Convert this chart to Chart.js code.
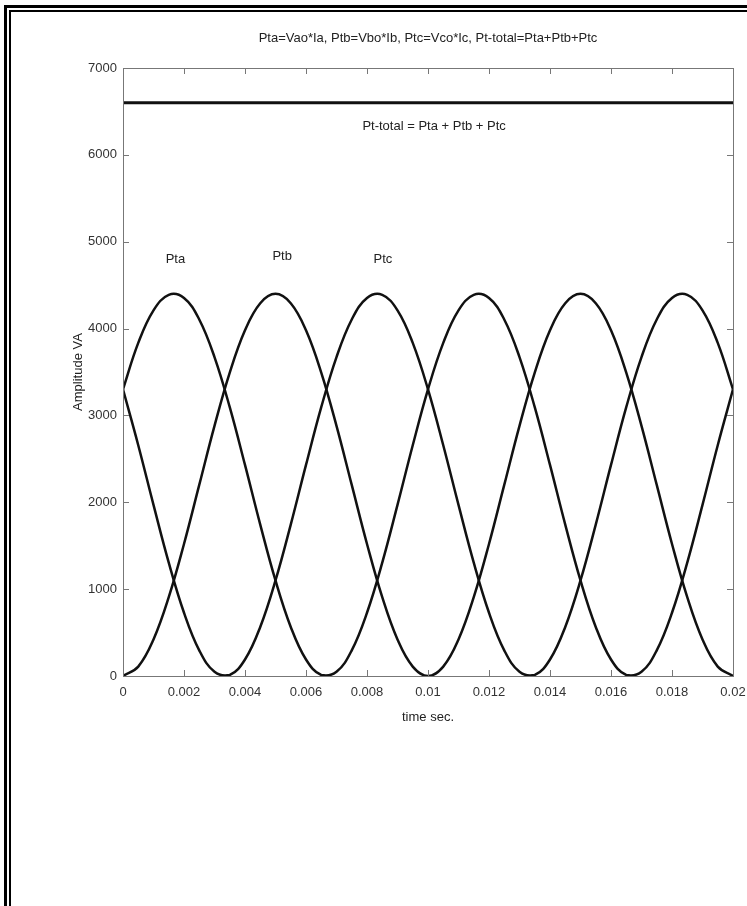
<!DOCTYPE html>
<html>
<head>
<meta charset="utf-8">
<script src="https://cdn.jsdelivr.net/npm/chart.js@4.4.1/dist/chart.umd.min.js"></script>
<style>
  html, body { margin: 0; padding: 0; background: #fff; }
  #wrap { position: relative; width: 747px; height: 906px; }
</style>
</head>
<body>
<div id="wrap"><canvas id="myChart" width="747" height="906"></canvas></div>
<script>
// time samples (s)
const times = [0, 0.0005, 0.001, 0.0015, 0.002, 0.0025, 0.003, 0.0035, 0.004, 0.0045,
  0.005, 0.0055, 0.006, 0.0065, 0.007, 0.0075, 0.008, 0.0085, 0.009, 0.0095,
  0.01, 0.0105, 0.011, 0.0115, 0.012, 0.0125, 0.013, 0.0135, 0.014, 0.0145,
  0.015, 0.0155, 0.016, 0.0165, 0.017, 0.0175, 0.018, 0.0185, 0.019, 0.0195, 0.02];

// phase powers (VA)
const pta = [3300, 3835, 4210, 4388, 4352, 4105, 3672, 3095, 2430, 1743,
  1100, 565, 190, 12, 48, 295, 728, 1305, 1970, 2657,
  3300, 3835, 4210, 4388, 4352, 4105, 3672, 3095, 2430, 1743,
  1100, 565, 190, 12, 48, 295, 728, 1305, 1970, 2657, 3300];
const ptb = [0, 108, 420, 907, 1520, 2200, 2880, 3493, 3980, 4292,
  4400, 4292, 3980, 3493, 2880, 2200, 1520, 907, 420, 108,
  0, 108, 420, 907, 1520, 2200, 2880, 3493, 3980, 4292,
  4400, 4292, 3980, 3493, 2880, 2200, 1520, 907, 420, 108, 0];
const ptc = [3300, 2657, 1970, 1305, 728, 295, 48, 12, 190, 565,
  1100, 1743, 2430, 3095, 3672, 4105, 4352, 4388, 4210, 3835,
  3300, 2657, 1970, 1305, 728, 295, 48, 12, 190, 565,
  1100, 1743, 2430, 3095, 3672, 4105, 4352, 4388, 4210, 3835, 3300];
const ptTotal = [6600, 6600, 6600, 6600, 6600, 6600, 6600, 6600, 6600, 6600,
  6600, 6600, 6600, 6600, 6600, 6600, 6600, 6600, 6600, 6600,
  6600, 6600, 6600, 6600, 6600, 6600, 6600, 6600, 6600, 6600,
  6600, 6600, 6600, 6600, 6600, 6600, 6600, 6600, 6600, 6600, 6600];

const xTicks = [0, 0.002, 0.004, 0.006, 0.008, 0.01, 0.012, 0.014, 0.016, 0.018, 0.02];
const yTicks = [0, 1000, 2000, 3000, 4000, 5000, 6000, 7000];

const chartTitle = 'Pta=Vao*Ia, Ptb=Vbo*Ib, Ptc=Vco*Ic, Pt-total=Pta+Ptb+Ptc';
// text labels inside the axes: [text, x value, y value]
const notes = [
  ['Pt-total = Pta + Ptb + Ptc', 0.0102, 6330],
  ['Pta', 0.00172, 4800],
  ['Ptb', 0.00522, 4830],
  ['Ptc', 0.00852, 4800]
];

const font = '"Liberation Sans", Arial, sans-serif';
const toXY = arr => times.map((t, i) => ({ x: t, y: arr[i] }));
const lineDs = (label, arr, w) => ({
  label: label, data: toXY(arr), borderColor: '#111', borderWidth: w,
  pointRadius: 0, tension: 0.4, fill: false
});

// frame, inward ticks, box and texts, MATLAB style
const decor = {
  id: 'decor',
  beforeDraw(chart) {
    const c = chart.ctx;
    c.save();
    c.fillStyle = '#fff';
    c.fillRect(0, 0, chart.width, chart.height);
    c.fillStyle = '#000';
    c.fillRect(4, 5, chart.width - 4, 3);
    c.fillRect(4, 5, 3, chart.height - 5);
    c.fillRect(9, 10, chart.width - 9, 2);
    c.fillRect(9, 10, 2, chart.height - 10);
    c.restore();
  },
  afterDraw(chart) {
    const c = chart.ctx, a = chart.chartArea;
    const xs = chart.scales.x, ys = chart.scales.y;
    c.save();
    c.strokeStyle = '#777';
    c.lineWidth = 1;
    c.strokeRect(a.left + 0.5, a.top + 0.5, a.right - a.left, a.bottom - a.top);
    c.beginPath();
    xTicks.forEach(v => {
      const px = Math.round(xs.getPixelForValue(v)) + 0.5;
      c.moveTo(px, a.bottom); c.lineTo(px, a.bottom - 6);
      c.moveTo(px, a.top); c.lineTo(px, a.top + 6);
    });
    yTicks.forEach(v => {
      const py = Math.round(ys.getPixelForValue(v)) + 0.5;
      c.moveTo(a.left, py); c.lineTo(a.left + 6, py);
      c.moveTo(a.right, py); c.lineTo(a.right - 6, py);
    });
    c.stroke();

    c.fillStyle = '#222';
    c.font = '13px ' + font;
    c.textAlign = 'center';
    c.textBaseline = 'middle';
    c.fillText(chartTitle, (a.left + a.right) / 2, 38);
    c.fillText('time sec.', (a.left + a.right) / 2, 717);
    notes.forEach(n => {
      c.fillText(n[0], xs.getPixelForValue(n[1]), ys.getPixelForValue(n[2]));
    });
    c.translate(78, (a.top + a.bottom) / 2);
    c.rotate(-Math.PI / 2);
    c.fillText('Amplitude VA', 0, 0);
    c.restore();
  }
};

const ctx = document.querySelector('#myChart');
const myChart = new Chart(ctx, {
  type: 'line',
  data: {
    datasets: [
      lineDs('Pt-total', ptTotal, 3),
      lineDs('Pta', pta, 2.5),
      lineDs('Ptb', ptb, 2.5),
      lineDs('Ptc', ptc, 2.5)
    ]
  },
  options: {
    responsive: false,
    animation: false,
    layout: { padding: { left: 0, top: 68, right: 14, bottom: 200 } },
    plugins: { legend: { display: false }, tooltip: { enabled: false }, title: { display: false } },
    scales: {
      x: {
        type: 'linear', min: 0, max: 0.02,
        afterBuildTicks: s => { s.ticks = xTicks.map(v => ({ value: v })); },
        afterFit: s => { s.height = 30; s.paddingLeft = 0; s.paddingRight = 0; },
        grid: { display: false, drawTicks: false },
        border: { display: false },
        ticks: {
          padding: 9, color: '#333', font: { family: font, size: 13 },
          maxRotation: 0, autoSkip: false,
          callback: v => String(parseFloat(v.toFixed(3)))
        }
      },
      y: {
        min: 0, max: 7000,
        afterBuildTicks: s => { s.ticks = yTicks.map(v => ({ value: v })); },
        afterFit: s => { s.width = 123; s.paddingTop = 0; s.paddingBottom = 0; },
        grid: { display: false, drawTicks: false },
        border: { display: false },
        ticks: {
          padding: 6, color: '#333', font: { family: font, size: 13 },
          callback: v => String(v)
        }
      }
    }
  },
  plugins: [decor]
});
</script>
</body>
</html>
